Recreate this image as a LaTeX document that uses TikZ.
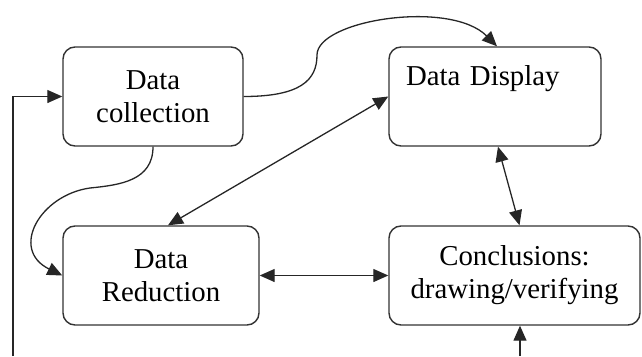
\documentclass[tikz,border=0pt]{standalone}
\usepackage{fontspec}
\setmainfont{Liberation Serif}
\usetikzlibrary{arrows.meta,calc}
\begin{document}
\begin{tikzpicture}[x=1pt,y=-1pt,
  box/.style={draw=black!80,line width=1.4pt,rounded corners=12pt,inner sep=0pt,
    align=center,font=\fontsize{28.8}{33}\selectfont,fill=white},
  tip/.tip={Triangle[length=15pt,width=13pt]},
  arr/.style={line width=1.3pt,draw=black!85,-tip},
  darr/.style={line width=1.3pt,draw=black!85,tip-tip}]
\useasboundingbox (0,0) rectangle (642,356);
\node[box,minimum width=180pt,minimum height=99pt] (dc) at (153,96.5) {Data\\collection};
\node[box,minimum width=212pt,minimum height=99pt,inner xsep=17pt,text width=178pt,align=left] (dd) at (495,96.5) {Data Display\\\strut};
\node[box,minimum width=196pt,minimum height=99pt] (dr) at (161,275.5) {Data\\Reduction};
\node[box,minimum width=251pt,minimum height=99pt] (cv) at (514.5,275.5) {Conclusions:\\drawing/verifying};
\coordinate (fb) at (13,356);
\coordinate (bt) at (520,356);
\draw[arr] (fb) |- (dc.west);
\draw[arr] (bt) -- (bt |- cv.south);
\draw[darr] (dr.east) -- (cv.west);
\draw[darr] (dd.west) -- ([xshift=7pt]dr.north);
\draw[darr] ([xshift=3pt]dd.south) -- ([xshift=5pt]cv.north);
\draw[arr] (dc.east) .. controls +(57,0) and +(0,25) .. (317,55)
  .. controls +(0,-35) and +(-47,-47) .. ([xshift=2pt]dd.north);
\draw[arr] (dc.south) .. controls +(0,34) and +(30,-3) .. (90,188)
  .. controls +(-50,7) and +(-53,-26) .. (dr.west);
\end{tikzpicture}
\end{document}
